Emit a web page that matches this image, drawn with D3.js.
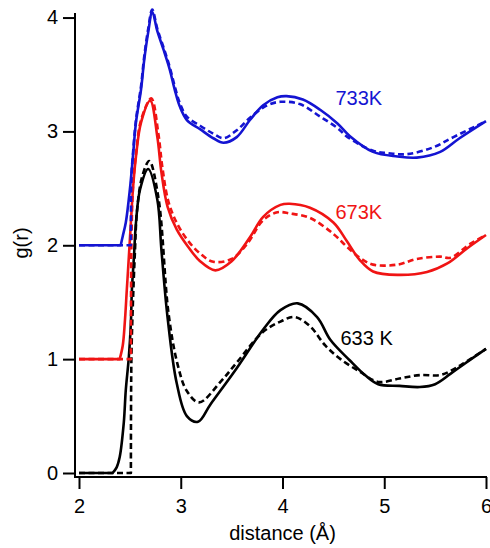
<html>
  <head>
    <script src="https://d3js.org/d3.v7.min.js"></script>
  </head>
  <body style="margin:0;background:#fff">
    <div id="chart"></div>
    <script>
      // r values (Å) and g(r) values (unshifted)
      const r633 = [2.0, 2.33, 2.37, 2.4, 2.44, 2.46, 2.49, 2.51, 2.52, 2.54, 2.56, 2.6, 2.68, 2.77, 2.81, 2.87, 2.96, 3.06, 3.17, 3.29, 3.55, 3.81, 3.98, 4.15, 4.34, 4.47, 4.66, 4.81, 4.94, 5.15, 5.35, 5.5, 5.65, 5.79, 6.0]
      const g633 = [0, 0, 0.05, 0.14, 0.44, 0.73, 1.02, 1.32, 1.61, 1.9, 2.2, 2.49, 2.67, 2.4, 1.96, 1.37, 0.79, 0.5, 0.45, 0.6, 0.92, 1.26, 1.43, 1.49, 1.37, 1.17, 0.99, 0.86, 0.78, 0.765, 0.755, 0.78, 0.87, 0.96, 1.09]
      const r633d = [2.0, 2.51, 2.515, 2.53, 2.55, 2.57, 2.62, 2.69, 2.78, 2.88, 2.97, 3.06, 3.18, 3.39, 3.55, 3.81, 3.98, 4.12, 4.27, 4.42, 4.57, 4.76, 4.94, 5.15, 5.35, 5.55, 5.68, 5.81, 6.0]
      const g633d = [0, 0, 1.0, 1.5, 1.95, 2.3, 2.6, 2.74, 2.42, 1.4, 0.95, 0.72, 0.62, 0.8, 0.97, 1.24, 1.33, 1.37, 1.29, 1.12, 1.0, 0.89, 0.8, 0.83, 0.86, 0.86, 0.91, 0.98, 1.09]

      const r673 = [2.0, 2.4, 2.43, 2.45, 2.47, 2.49, 2.51, 2.53, 2.56, 2.61, 2.7, 2.77, 2.81, 2.87, 2.96, 3.07, 3.19, 3.34, 3.5, 3.68, 3.81, 3.98, 4.07, 4.27, 4.5, 4.63, 4.76, 4.89, 5.13, 5.42, 5.62, 5.81, 6.0]
      const g673 = [0, 0, 0.12, 0.32, 0.61, 0.9, 1.2, 1.49, 1.78, 2.08, 2.27, 1.95, 1.64, 1.34, 1.14, 0.99, 0.86, 0.78, 0.86, 1.07, 1.25, 1.355, 1.365, 1.33, 1.2, 1.04, 0.87, 0.77, 0.74, 0.765, 0.84, 0.97, 1.09]
      const r673d = [2.0, 2.51, 2.515, 2.53, 2.56, 2.61, 2.71, 2.78, 2.82, 2.88, 2.97, 3.08, 3.2, 3.32, 3.5, 3.65, 3.81, 3.95, 4.07, 4.27, 4.5, 4.63, 4.76, 4.89, 5.13, 5.32, 5.55, 5.65, 5.84, 6.0]
      const g673d = [0, 0, 1.0, 1.5, 1.8, 2.1, 2.29, 1.98, 1.68, 1.38, 1.18, 1.03, 0.92, 0.855, 0.88, 1.01, 1.22, 1.29, 1.28, 1.24, 1.1, 0.99, 0.89, 0.83, 0.83, 0.88, 0.9, 0.89, 1.01, 1.09]

      const r733 = [2.0, 2.41, 2.43, 2.46, 2.5, 2.53, 2.56, 2.61, 2.64, 2.68, 2.72, 2.77, 2.83, 2.89, 2.94, 2.99, 3.06, 3.19, 3.32, 3.42, 3.55, 3.68, 3.81, 3.95, 4.04, 4.2, 4.37, 4.54, 4.66, 4.89, 5.13, 5.32, 5.55, 5.74, 6.0]
      const g733 = [0, 0, 0.08, 0.2, 0.49, 0.78, 1.08, 1.37, 1.62, 1.87, 2.05, 1.88, 1.72, 1.55, 1.37, 1.22, 1.1, 1.02, 0.94, 0.9, 0.95, 1.1, 1.23, 1.3, 1.31, 1.28, 1.19, 1.07, 0.96, 0.82, 0.78, 0.77, 0.82, 0.94, 1.09]
      const r733d = [2.0, 2.51, 2.515, 2.53, 2.56, 2.61, 2.64, 2.68, 2.72, 2.77, 2.83, 2.89, 2.94, 2.99, 3.06, 3.19, 3.32, 3.42, 3.55, 3.68, 3.85, 3.98, 4.17, 4.37, 4.54, 4.64, 4.89, 5.03, 5.22, 5.48, 5.68, 6.0]
      const g733d = [0, 0, 0.6, 0.8, 1.1, 1.4, 1.65, 1.9, 2.07, 1.9, 1.74, 1.57, 1.4, 1.25, 1.13, 1.05, 0.98, 0.94, 1.01, 1.12, 1.23, 1.26, 1.24, 1.13, 1.03, 0.95, 0.83, 0.81, 0.8, 0.86, 0.95, 1.09]

      const offsets = [0, 1, 2]
      const labels = ["633 K", "673K", "733K"]
      const colors = ["#000000", "#f01414", "#1414d2"]
      const xTicks = [2, 3, 4, 5, 6]
      const yTicks = [0, 1, 2, 3, 4]

      const series = [
        {r: r633, g: g633, k: 0, dash: false},
        {r: r633d, g: g633d, k: 0, dash: true},
        {r: r673, g: g673, k: 1, dash: false},
        {r: r673d, g: g673d, k: 1, dash: true},
        {r: r733, g: g733, k: 2, dash: false},
        {r: r733d, g: g733d, k: 2, dash: true}
      ]

      const width = 490, height = 548
      const svg = d3.select("#chart").append("svg")
        .attr("width", width)
        .attr("height", height)
        .style("font-family", "'Liberation Sans', Arial, sans-serif")

      const x = d3.scaleLinear().domain([2, 6]).range([79, 486])
      const y = d3.scaleLinear().domain([0, 4.04]).range([473, 13])
      const axL = 75, axB = 477

      // axes
      let xa = svg.append("g")
        .attr("transform", `translate(0,${axB})`)
        .call(d3.axisBottom(x).tickValues(xTicks).tickFormat(d3.format("d")).tickSize(12).tickPadding(10))
      let ya = svg.append("g")
        .attr("transform", `translate(${axL},0)`)
        .call(d3.axisLeft(y).tickValues(yTicks).tickFormat(d3.format("d")).tickSize(12).tickPadding(5))
      for (const a of [xa, ya]) {
        a.select(".domain").remove()
        a.selectAll(".tick line").attr("stroke", "#000").attr("stroke-width", 2)
        a.selectAll(".tick text").attr("fill", "#000").style("font-size", "20px").style("font-family", "'Liberation Sans', Arial, sans-serif")
      }
      svg.append("line").attr("x1", axL).attr("x2", axL).attr("y1", axB + 1).attr("y2", y(4.04))
        .attr("stroke", "#000").attr("stroke-width", 2)
      svg.append("line").attr("x1", axL - 1).attr("x2", x(6) + 1).attr("y1", axB).attr("y2", axB)
        .attr("stroke", "#000").attr("stroke-width", 2)

      // curves: straight flat part at g=0, smooth curve after
      const flat = d3.line()
      const smooth = d3.line().curve(d3.curveCatmullRom.alpha(0.5))
      let curvePath = (d) => {
        const pts = d.r.map((rv, i) => [x(rv), y(d.g[i] + offsets[d.k])])
        let k = 0
        while (k + 1 < d.g.length && d.g[k + 1] === 0) k++
        return flat(pts.slice(0, k + 1)) + smooth(pts.slice(k)).replace(/^M/, "L")
      }
      svg.append("g").selectAll("path")
        .data(series)
        .join("path")
        .attr("fill", "none")
        .attr("stroke", d => colors[d.k])
        .attr("stroke-width", 2.6)
        .attr("stroke-linejoin", "round")
        .attr("stroke-dasharray", d => d.dash ? "6,3.5" : null)
        .attr("d", curvePath)

      // curve labels
      const labelPos = [[4.57, 1.12], [4.52, 2.23], [4.52, 3.23]]
      svg.append("g").selectAll("text")
        .data(labels)
        .join("text")
        .attr("x", (d, i) => x(labelPos[i][0]))
        .attr("y", (d, i) => y(labelPos[i][1]))
        .attr("fill", (d, i) => colors[i])
        .style("font-size", "20px")
        .text(d => d)

      // axis titles
      svg.append("text")
        .attr("x", (x(2) + x(6)) / 2)
        .attr("y", 540)
        .attr("text-anchor", "middle")
        .style("font-size", "20px")
        .text("distance (Å)")
      svg.append("text")
        .attr("transform", `translate(28,${(y(0) + y(4.04)) / 2}) rotate(-90)`)
        .attr("text-anchor", "middle")
        .style("font-size", "20px")
        .text("g(r)")
    </script>
  </body>
</html>
